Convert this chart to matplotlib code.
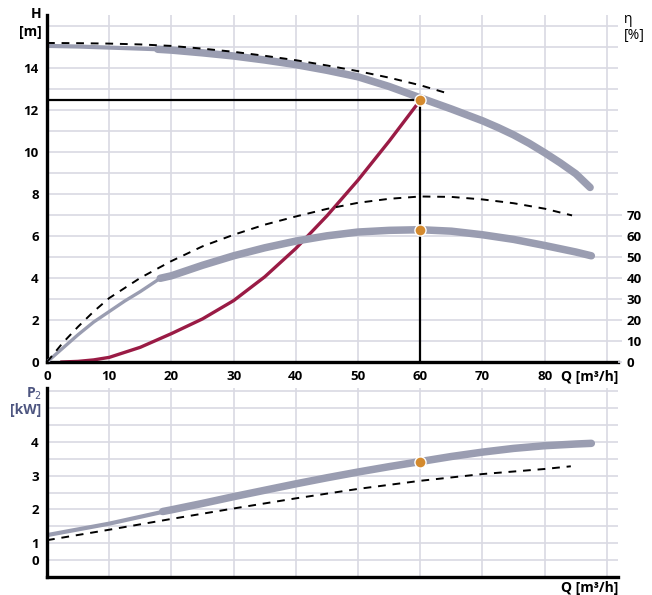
import matplotlib
matplotlib.use("Agg")
import matplotlib.pyplot as plt

plt.rcParams['font.family'] = ['Open Sans', 'DejaVu Sans']

# pump head curve H(Q), m
q_head_thin = [0, 5, 10, 15, 17.8]
h_head_thin = [15.03, 15.0, 14.95, 14.9, 14.87]
q_head = [17.8, 20, 25, 30, 35, 40, 45, 50, 55, 60, 65, 70, 72.5, 75, 77.5, 80,
          82.5, 85, 87.3]
h_head = [14.87, 14.83, 14.7, 14.55, 14.36, 14.14, 13.87, 13.56, 13.1, 12.56,
          12.03, 11.47, 11.15, 10.8, 10.4, 9.95, 9.47, 8.95, 8.3]
q_head_dash = [0, 5, 10, 15, 20, 25, 30, 35, 40, 45, 50, 55, 60, 64.1]
h_head_dash = [15.17, 15.16, 15.14, 15.1, 15.03, 14.9, 14.75, 14.56, 14.35, 14.1,
               13.83, 13.52, 13.16, 12.8]

# system curve, m
q_sys = [2.4, 5, 7.5, 10, 15, 20, 25, 30, 35, 40, 45, 50, 55, 60]
h_sys = [0, 0.03, 0.1, 0.22, 0.7, 1.35, 2.05, 2.92, 4.05, 5.4, 6.95, 8.65, 10.5, 12.45]

# efficiency, %
q_eta_thin = [0, 2.5, 5, 7.5, 10, 12.5, 15, 18.2]
eta_thin = [0, 6.5, 13, 19, 24, 29, 33.5, 39.8]
q_eta = [18.2, 20, 25, 30, 35, 40, 45, 50, 55, 60, 65, 70, 75, 80, 85, 87.5]
eta = [39.8, 41, 46, 50.5, 54.3, 57.5, 60, 61.8, 62.6, 62.9, 62.2, 60.5, 58.3,
       55.4, 52.3, 50.5]
q_eta_dash = [0, 2.5, 5, 7.5, 10, 15, 20, 25, 30, 35, 40, 45, 50, 55, 60, 65, 70,
              75, 80, 84.4]
eta_dash = [0, 9, 16.8, 24, 30.4, 40, 48, 55, 60.5, 65.3, 69.2, 72.8, 75.7, 77.6,
            78.7, 78.5, 77.3, 75.5, 72.9, 69.7]

# power P2, kW
q_p_thin = [0, 10, 18.6]
p_thin = [1.24, 1.58, 1.93]
q_p = [18.6, 20, 25, 30, 35, 40, 45, 50, 55, 60, 65, 70, 75, 80, 85, 87.5]
p = [1.94, 1.99, 2.18, 2.38, 2.57, 2.76, 2.94, 3.11, 3.27, 3.42, 3.57, 3.70,
     3.81, 3.89, 3.94, 3.96]
q_p_dash = [0, 10, 20, 30, 40, 50, 60, 70, 80, 84.2]
p_dash = [1.09, 1.40, 1.72, 2.03, 2.33, 2.61, 2.85, 3.05, 3.2, 3.28]

# duty point
q_duty = 60
h_duty = 12.45
eta_duty = 62.9
p_duty = 3.42

x_labels = ['0', '10', '20', '30', '40', '50', '60', '70', '80', '']
eta_ticks = [0, 10, 20, 30, 40, 50, 60, 70]

gray = '#9a9db1'
red = '#9a1b45'
orange = '#d48a2e'
gridc = '#d9d9e3'
slate = '#4d5580'

fig = plt.figure(figsize=(6.52, 5.95), dpi=100)
ax1 = fig.add_axes([0.0721, 0.3916, 0.8759, 0.5832])
ax2 = fig.add_axes([0.0721, 0.0303, 0.8759, 0.3176])

for ax in (ax1, ax2):
    ax.set_xlim(0, 91.8)
    ax.set_xticks(range(0, 100, 10))
    ax.grid(True, color=gridc, lw=1.2)
    ax.set_axisbelow(True)
    for s in ('top', 'right'):
        ax.spines[s].set_visible(False)
    for s in ('left', 'bottom'):
        ax.spines[s].set_linewidth(2.4)
    ax.tick_params(length=0, labelsize=9.5, pad=6)

# top panel
ax1.set_ylim(0, 16.5)
ax1.set_yticks(range(0, 17))
ax1.set_yticklabels([str(v) if v % 2 == 0 and v <= 14 else '' for v in range(0, 17)],
                    fontweight='bold')
ax1.set_xticklabels(x_labels, fontweight='bold')

ax1.plot(q_head_thin, h_head_thin, color=gray, lw=3, solid_capstyle='round')
ax1.plot(q_head, h_head, color=gray, lw=5.4, solid_capstyle='round')
ax1.plot(q_head_dash, h_head_dash, 'k--', lw=1.4, dashes=(4, 3.5))
ax1.plot(q_sys, h_sys, color=red, lw=2.4)
ax1.plot([0, q_duty, q_duty], [h_duty, h_duty, 0], color='k', lw=1.6, zorder=3)

axe = ax1.twinx()
axe.set_position(ax1.get_position())
axe.set_ylim(0, 165)
axe.set_yticks(eta_ticks)
axe.set_yticklabels([str(v) for v in eta_ticks], fontweight='bold')
axe.tick_params(length=3, labelsize=9.5, color=gridc, width=1.2, pad=3)
for s in axe.spines.values():
    s.set_visible(False)
axe.plot(q_eta_thin, eta_thin, color=gray, lw=2.4, solid_capstyle='round')
axe.plot(q_eta, eta, color=gray, lw=5.4, solid_capstyle='round')
axe.plot(q_eta_dash, eta_dash, 'k--', lw=1.4, dashes=(4, 3.5))
axe.plot([q_duty], [eta_duty], 'o', color=orange, mec='white', mew=1, ms=8, zorder=5)
axe.plot([q_duty], [h_duty * 10], 'o', color=orange, mec='white', mew=1, ms=8, zorder=5)

fig.text(0.064, 0.977, 'H', ha='right', va='center', fontsize=10, fontweight='bold')
fig.text(0.064, 0.947, '[m]', ha='right', va='center', fontsize=10, fontweight='bold')
fig.text(0.957, 0.968, 'η', ha='left', va='center', fontsize=10)
fig.text(0.957, 0.94, '[%]', ha='left', va='center', fontsize=10)
fig.text(0.905, 0.366, 'Q [m³/h]', ha='center', va='center', fontsize=10, fontweight='bold')

# bottom panel
ax2.set_ylim(0, 5.6)
ax2.set_yticks([0.5, 1, 1.5, 2, 2.5, 3, 3.5, 4, 4.5, 5, 5.5])
ax2.set_yticklabels(['0', '1', '', '2', '', '3', '', '4', '', '', ''], fontweight='bold')
ax2.set_xticklabels([])
ax2.plot(q_p_thin, p_thin, color=gray, lw=3, solid_capstyle='butt')
ax2.plot(q_p, p, color=gray, lw=5.4, solid_capstyle='round')
ax2.plot(q_p_dash, p_dash, 'k--', lw=1.4, dashes=(4, 3.5))
ax2.plot([q_duty], [p_duty], 'o', color=orange, mec='white', mew=1, ms=8, zorder=5)

fig.text(0.064, 0.338, 'P$_2$', ha='right', va='center', fontsize=10, fontweight='bold', color=slate)
fig.text(0.064, 0.311, '[kW]', ha='right', va='center', fontsize=10, fontweight='bold', color=slate)
fig.text(0.905, 0.012, 'Q [m³/h]', ha='center', va='center', fontsize=10, fontweight='bold')

fig.savefig('out.png', dpi=100)
